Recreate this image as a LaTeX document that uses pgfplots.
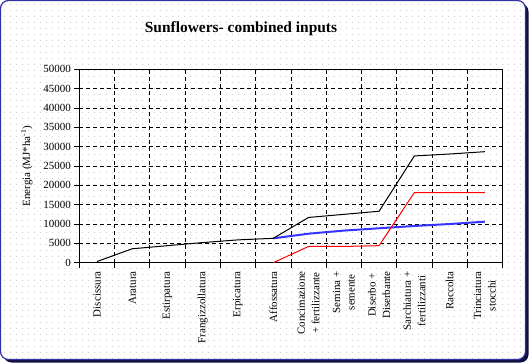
\documentclass[border=0pt]{standalone}
\usepackage{fontspec}
\setmainfont{Liberation Serif}
\usepackage{pgfplots}
\pgfplotsset{compat=1.18}
\usetikzlibrary{patterns.meta}
\definecolor{framec}{HTML}{3333A0}
\definecolor{shadowc}{HTML}{101040}
\definecolor{blueline}{HTML}{3535FF}
\begin{document}
\begin{tikzpicture}
\useasboundingbox (0bp,0bp) rectangle (530bp,364bp);
\fill[shadowc, rounded corners=8bp] (3.5bp,1.5bp) rectangle (528.5bp,360.5bp);
\fill[white, rounded corners=8bp] (0.5bp,4.5bp) rectangle (525.5bp,363.5bp);
\fill[pattern={Dots[distance=6bp,radius=0.5bp]}, pattern color=gray!50, rounded corners=8bp] (0.5bp,4.5bp) rectangle (525.5bp,363.5bp);
\draw[framec, line width=1.2bp, rounded corners=8bp] (0.5bp,4.5bp) rectangle (525.5bp,363.5bp);
\node[font=\bfseries\fontsize{15.5}{17}\selectfont] at (241bp,335bp) {Sunflowers- combined inputs};
\begin{axis}[
  at={(79.3bp,101.3bp)}, anchor=south west,
  scale only axis, width=423.2bp, height=193.4bp,
  xmin=0.5, xmax=12.5, ymin=0, ymax=50000,
  xtick={0.5,1.5,...,12.5},
  x tick label as interval,
  xticklabels={Discissura,Aratura,Estirpatura,Frangizzollatura,Erpicatura,Affossatura,{Concimazione\\+ fertilizzante},{Semina +\\semente},{Diserbo +\\Diserbante},{Sarchiatura +\\fertilizzanti},Raccolta,{Trinciatura\\stocchi}},
  ytick={0,5000,...,50000},
  grid=major,
  grid style={black, dash pattern=on 4bp off 3bp, line width=0.7bp},
  tick pos=left, tick align=outside, major tick length=5bp,
  tick style={black, line width=0.8bp},
  axis line style={black, line width=0.9bp},
  xticklabel style={rotate=90, anchor=east, align=center, font=\fontsize{11}{14.5}\selectfont, inner sep=3.5bp},
  yticklabel style={font=\fontsize{11}{12}\selectfont},
  /pgf/number format/1000 sep={},
  /pgf/number format/assume math mode=true,
  scaled y ticks=false,
  ylabel={Energia (MJ*ha\textsuperscript{-1})},
  ylabel style={font=\fontsize{11}{12}\selectfont},
  ylabel shift=4bp,
  every axis plot/.append style={mark=none},
]
\addplot[blueline, line width=2bp] coordinates {(6,6300)(7,7500)(8,8300)(9,8900)(10,9500)(11,10000)(12,10600)};
\addplot[red, line width=1bp] coordinates {(6,0)(7,4200)(8,4200)(9,4400)(10,18100)(11,18100)(12,18100)};
\addplot[black, line width=1bp] coordinates {(1,300)(2,3600)(3,4400)(4,5200)(5,5900)(6,6300)(7,11700)(8,12500)(9,13300)(10,27600)(11,28100)(12,28700)};
\end{axis}
\end{tikzpicture}
\end{document}
